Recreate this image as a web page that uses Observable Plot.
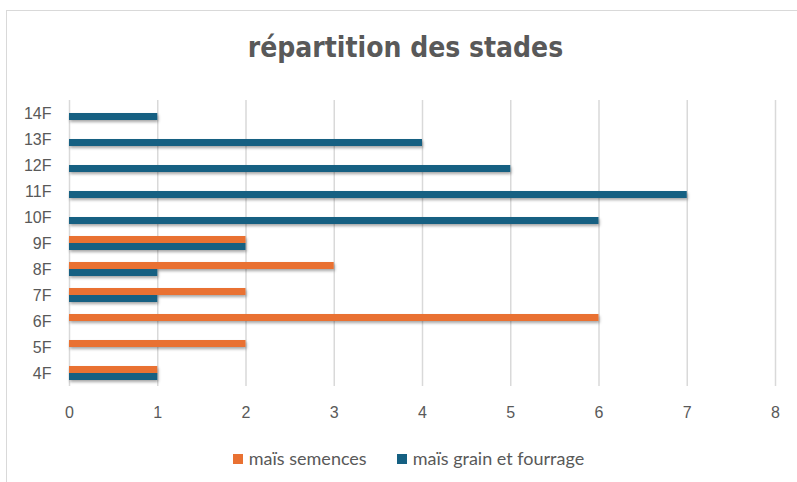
<!DOCTYPE html>
<html>
<head>
<meta charset="utf-8">
<script src="https://cdn.jsdelivr.net/npm/d3@7"></script>
<script src="https://cdn.jsdelivr.net/npm/@observablehq/plot@0.6"></script>
<style>
  html, body { margin: 0; padding: 0; background: #fff; }
  #wrap { position: relative; width: 797px; height: 482px; overflow: hidden; background: #fff; }
  #border { position: absolute; left: 6px; top: 10px; width: 820px; height: 500px; border: 1.5px solid #d9d9d9; box-sizing: border-box; }
  #title { position: relative; height: 84px; box-sizing: border-box; padding-top: 31px; text-align: center;
           font-family: "Liberation Sans Narrow", "DejaVu Sans Condensed", sans-serif; font-weight: bold;
           font-size: 28px; line-height: 34px; color: #595959; padding-left: 14px; }
  #chart { position: relative; height: 350px; }
  #legend { position: relative; height: 48px; box-sizing: border-box; padding-top: 13px; text-align: center;
            font-family: Lato, "Liberation Sans", sans-serif; font-size: 18px; line-height: 22px; color: #595959; padding-left: 20px; }
  .item { display: inline-block; margin: 0 15px; }
  .sw { display: inline-block; width: 10px; height: 10px; margin-right: 6px; vertical-align: 1px; }
</style>
</head>
<body>
<div id="wrap">
  <div id="border"></div>
  <div id="title">répartition des stades</div>
  <div id="chart"></div>
  <div id="legend"></div>
</div>
<script>
const categories = ["4F", "5F", "6F", "7F", "8F", "9F", "10F", "11F", "12F", "13F", "14F"];
const seriesNames = ["maïs semences", "maïs grain et fourrage"];
const semences = [1, 2, 6, 2, 3, 2, 0, 0, 0, 0, 0];
const grainFourrage = [1, 0, 0, 1, 1, 2, 6, 7, 5, 4, 1];
const xTicks = [0, 1, 2, 3, 4, 5, 6, 7, 8];
const colors = ["#E97132", "#156082"];

const rows = [];
categories.forEach((c, i) => {
  rows.push({stade: c, serie: seriesNames[0], value: semences[i]});
  rows.push({stade: c, serie: seriesNames[1], value: grainFourrage[i]});
});
const bars = rows.filter(d => d.value > 0);

const plot = Plot.plot({
  width: 797,
  height: 350,
  marginTop: 14,
  marginBottom: 46,
  marginLeft: 69,
  marginRight: 22,
  style: {fontFamily: "'Liberation Sans', Arial, sans-serif", fontSize: "16px", color: "#595959", background: "transparent"},
  x: {domain: [0, 8], ticks: xTicks, tickSize: 0, tickPadding: 20, label: null, line: false},
  fy: {domain: categories.slice().reverse(), padding: 0, label: null, tickSize: 0, tickPadding: 18, axis: "left"},
  y: {domain: seriesNames, paddingInner: 0, paddingOuter: 0.65, axis: null},
  color: {domain: seriesNames, range: colors},
  marks: [
    Plot.gridX(xTicks, {stroke: "#d9d9d9", strokeOpacity: 1, strokeWidth: 1.5}),
    Plot.barX(bars, {x: "value", y: "serie", fy: "stade", fill: "serie"}),
  ]
});

// soft drop shadow under bars, as in the reference
const svg = d3.select(plot);
const defs = svg.insert("defs", ":first-child");
const f = defs.append("filter").attr("id", "shadow").attr("x", "-5%").attr("y", "-50%").attr("width", "110%").attr("height", "250%");
f.append("feDropShadow").attr("dx", 1).attr("dy", 2).attr("stdDeviation", 1.5).attr("flood-color", "#000").attr("flood-opacity", 0.35);
svg.selectAll("g[aria-label='bar']").attr("filter", "url(#shadow)");

document.getElementById("chart").appendChild(plot);

const legend = document.getElementById("legend");
seriesNames.forEach((s, i) => {
  const it = document.createElement("span");
  it.className = "item";
  const sw = document.createElement("span");
  sw.className = "sw";
  sw.style.background = colors[i];
  it.appendChild(sw);
  it.appendChild(document.createTextNode(s));
  legend.appendChild(it);
});
</script>
</body>
</html>
